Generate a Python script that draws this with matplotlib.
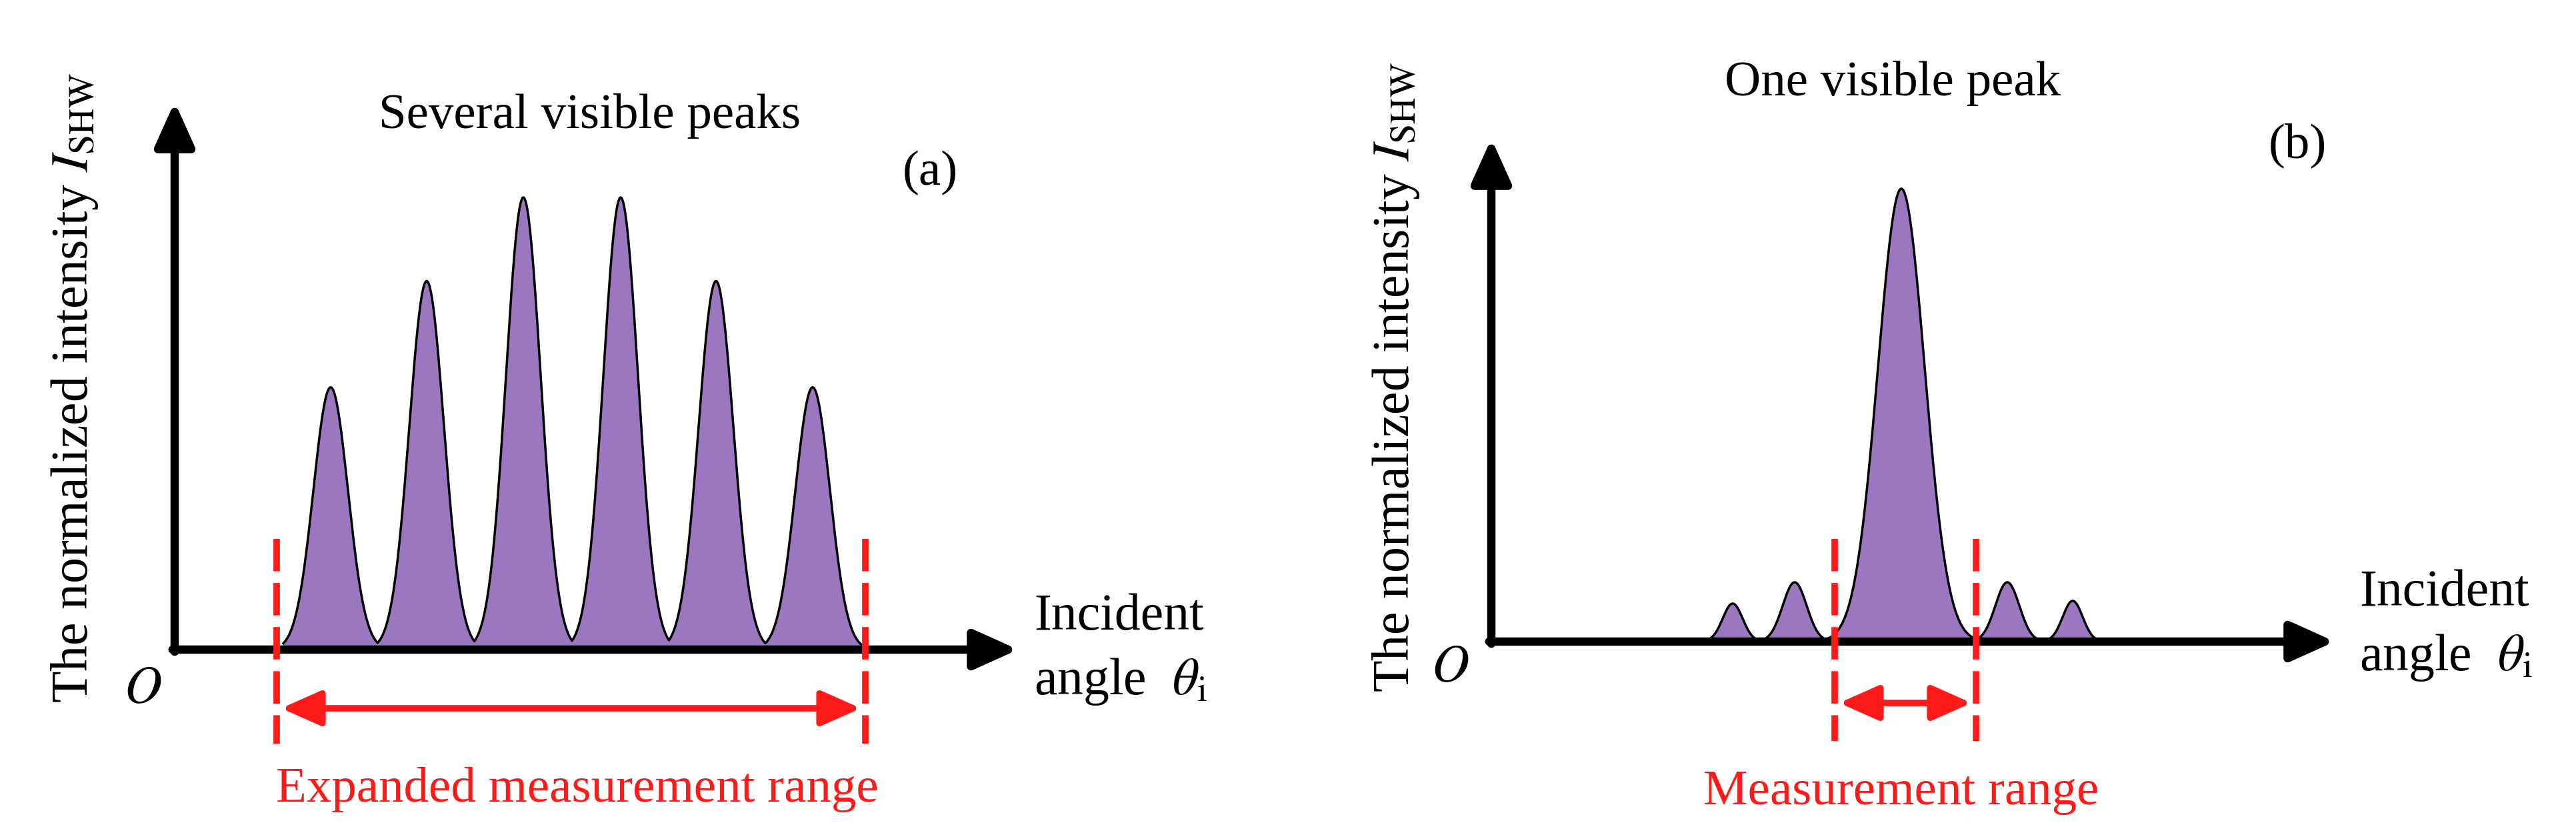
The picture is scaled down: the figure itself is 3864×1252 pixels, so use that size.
import numpy as np
import matplotlib
matplotlib.use("Agg")
import matplotlib.pyplot as plt

plt.rcParams['font.family'] = ['Liberation Serif', 'DejaVu Serif']
plt.rcParams['mathtext.fontset'] = 'stix'

# Panel (a): peak positions (px from panel origin) and relative heights
a_centers = [496, 640, 785, 931, 1074, 1219]
a_heights = [0.58, 0.815, 1.0, 1.0, 0.815, 0.58]
a_sigma = [26, 26, 26, 26, 26, 26]
# Panel (b)
b_centers = [2599, 2692, 2852, 3011, 3109]
b_heights = [0.084, 0.131, 1.0, 0.131, 0.09]
b_sigma = [15, 18, 35, 18, 15]

PURPLE = '#9b77c0'
RED = '#ff1a1a'

fig = plt.figure(figsize=(38.64, 12.52), dpi=100)
ax = fig.add_axes([0, 0, 1, 1])
ax.set_xlim(0, 3864)
ax.set_ylim(1252, 0)
ax.axis('off')

def panel(ox, base, top, xend, centers, heights, sigmas, amp, x0, x1,
          rl, rr, rtop, rbot, arr_y, title, tpos, lab, lpos, rtext, rpos,
          ylab_pos, opos, inc_pos):
    x = np.linspace(x0, x1, 3000)
    y = np.zeros_like(x)
    for c, h, s in zip(centers, heights, sigmas):
        y = np.maximum(y, h * amp * np.exp(-0.5 * ((x - c) / s) ** 2))
    ax.fill_between(x, base, base - y, color=PURPLE, zorder=2)
    ax.plot(x, base - y, color='black', lw=2.5, zorder=3)
    ax.annotate('', xy=(ox, top), xytext=(ox, base + 6),
                arrowprops=dict(arrowstyle='-|>,head_length=1.0,head_width=0.45',
                                lw=9, color='black', mutation_scale=40), zorder=4)
    ax.annotate('', xy=(xend, base), xytext=(ox - 6, base),
                arrowprops=dict(arrowstyle='-|>,head_length=1.0,head_width=0.45',
                                lw=9, color='black', mutation_scale=40), zorder=4)
    for xr in (rl, rr):
        ax.plot([xr, xr], [rtop, rbot], color=RED, lw=7, ls=(0, (5, 1.8)), zorder=5)
    ax.annotate('', xy=(rl + 4, arr_y), xytext=(rr - 4, arr_y),
                arrowprops=dict(arrowstyle='<|-|>,head_length=0.9,head_width=0.4',
                                lw=7, color=RED, mutation_scale=40), zorder=5)
    ax.text(*tpos, title, fontsize=54, ha='center', va='center')
    ax.text(*lpos, lab, fontsize=54, ha='center', va='center')
    ax.text(*rpos, rtext, fontsize=54, ha='center', va='center', color=RED)
    ax.text(*ylab_pos, r'The normalized intensity $I_{\mathrm{SHW}}$', fontsize=56,
            rotation=90, ha='center', va='center')
    ax.text(*opos, r'$O$', fontsize=56, ha='center', va='center')
    ax.text(inc_pos[0], inc_pos[1], 'Incident', fontsize=56, ha='left', va='center')
    ax.text(inc_pos[0], inc_pos[1] + 97, r'angle  $\theta_{\mathrm{i}}$', fontsize=56,
            ha='left', va='center')

panel(262, 974, 150, 1530, a_centers, a_heights, a_sigma, 678, 425, 1292,
      415, 1298, 808, 1115, 1062, 'Several visible peaks', (885, 174),
      '(a)', (1395, 259), 'Expanded measurement range', (866, 1184),
      (112, 582), (214, 1034), (1551, 925))
panel(2237, 962, 205, 3505, b_centers, b_heights, b_sigma, 679, 2555, 3155,
      2752, 2964, 808, 1111, 1054, 'One visible peak', (2839, 125),
      '(b)', (3446, 218), 'Measurement range', (2852, 1188),
      (2094, 566), (2175, 1002), (3539, 889))

fig.savefig('out.png', dpi=100)
